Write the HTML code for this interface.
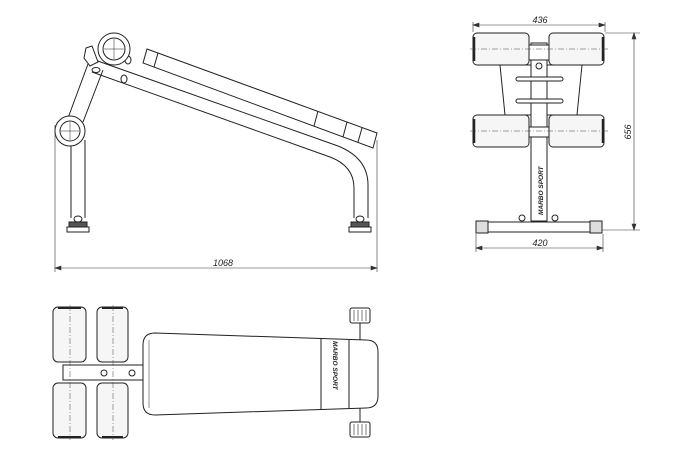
<!DOCTYPE html>
<html><head><style>html,body{margin:0;padding:0;background:#fff}svg{display:block}</style></head>
<body>
<svg width="681" height="450" viewBox="0 0 681 450" xmlns="http://www.w3.org/2000/svg" font-family="Liberation Sans, sans-serif">
<g fill="#fff" stroke="#222" stroke-width="1">
<!-- SIDE VIEW -->
<path d="M88,64 L68,118 M103,70 L83,122" fill="none"/>
<path d="M71,140 L71,218 M85,140 L85,218" fill="none"/>
<!-- main tube -->
<path d="M95,60 L338,146 Q368,158 368,185 L368,218" fill="none"/>
<path d="M92,72 L330,157 Q354,166 354,188 L354,218" fill="none"/>
<!-- pad -->
<polygon points="147,49 377,133 373,148 143,63"/>
<line x1="158" y1="53" x2="154" y2="67"/><line x1="318" y1="111" x2="314" y2="126"/><line x1="347" y1="122" x2="343" y2="137"/><line x1="362" y1="128" x2="358" y2="142"/>
<!-- top bracket -->
<polygon points="86,48 92,46 98,62 90,66 84,58"/>
<ellipse cx="96" cy="70" rx="4" ry="2.5"/><ellipse cx="128" cy="60" rx="3" ry="4"/><ellipse cx="124" cy="79" rx="3" ry="4"/>
<circle cx="114" cy="49" r="16"/><circle cx="114" cy="49" r="11"/>
<circle cx="70" cy="131" r="15"/><circle cx="70" cy="131" r="10"/>
<path d="M104,49 H124 M114,39 V59 M61,131 H79 M70,122 V140" stroke-width="0.5"/>
<rect x="69" y="222" width="18" height="6" fill="#555"/><rect x="67" y="227" width="22" height="5"/><ellipse cx="78" cy="219" rx="4" ry="3"/>
<rect x="351" y="222" width="18" height="6" fill="#555"/><rect x="349" y="227" width="22" height="5"/><ellipse cx="360" cy="219" rx="4" ry="3"/>
</g>
<g stroke="#333" stroke-width="0.6" fill="none">
<line x1="55" y1="125" x2="55" y2="272"/><line x1="377" y1="140" x2="377" y2="272"/>
<line x1="55" y1="268" x2="377" y2="268"/>
<path d="M55,268 l6,-2 v4z M377,268 l-6,-2 v4z" fill="#333"/>
</g>
<text x="223" y="266" font-size="9" font-style="italic" text-anchor="middle" fill="#222">1068</text>

<!-- FRONT VIEW -->
<g fill="#fff" stroke="#222" stroke-width="1">
<polygon points="500,65 582,65 577,115 505,115"/>
<rect x="531" y="43" width="16" height="178"/>
<g fill="#f6f6f6">
<rect x="473" y="33" width="56" height="32" rx="4"/><rect x="549" y="33" width="55" height="32" rx="4"/>
<rect x="473" y="115" width="56" height="32" rx="4"/><rect x="549" y="115" width="55" height="32" rx="4"/>
</g>
<path d="M474,37v24M603,37v24M474,119v24M603,119v24" stroke-width="2.5"/>
<rect x="529" y="45" width="20" height="15"/><rect x="529" y="127" width="20" height="10"/>
<rect x="516" y="77" width="47" height="4" rx="2"/><rect x="516" y="99" width="47" height="4" rx="2"/>
<rect x="477" y="222" width="125" height="10"/>
<rect x="476" y="221" width="12" height="12" fill="#ddd"/><rect x="590" y="221" width="12" height="12" fill="#ddd"/>
<ellipse cx="522" cy="218" rx="3" ry="3"/><ellipse cx="555" cy="218" rx="3" ry="3"/>
<circle cx="539" cy="66" r="3"/>
</g>
<g stroke="#444" stroke-width="0.5" stroke-dasharray="6,2,1,2"><line x1="470" y1="49" x2="608" y2="49"/><line x1="470" y1="131" x2="608" y2="131"/></g>
<text transform="translate(543,215) rotate(-90)" font-size="6.5" font-weight="bold" font-style="italic" fill="#222">MARBO SPORT</text>
<g stroke="#333" stroke-width="0.6" fill="none">
<line x1="473" y1="22" x2="473" y2="32"/><line x1="605" y1="22" x2="605" y2="32"/>
<line x1="473" y1="25" x2="605" y2="25"/><path d="M473,25 l6,-2 v4z M605,25 l-6,-2 v4z" fill="#333"/>
<line x1="605" y1="33" x2="640" y2="33"/><line x1="602" y1="230" x2="640" y2="230"/>
<line x1="634" y1="33" x2="634" y2="230"/><path d="M634,33 l-2,6 h4z M634,230 l-2,-6 h4z" fill="#333"/>
<line x1="476" y1="234" x2="476" y2="252"/><line x1="603" y1="234" x2="603" y2="252"/>
<line x1="476" y1="248" x2="603" y2="248"/><path d="M476,248 l6,-2 v4z M603,248 l-6,-2 v4z" fill="#333"/>
</g>
<text x="540" y="23" font-size="9" font-style="italic" text-anchor="middle" fill="#222">436</text>
<text x="540" y="246" font-size="9" font-style="italic" text-anchor="middle" fill="#222">420</text>
<text transform="translate(631,132) rotate(-90)" font-size="9" font-style="italic" text-anchor="middle" fill="#222">656</text>

<!-- TOP VIEW -->
<g fill="#fff" stroke="#222" stroke-width="1">
<rect x="63" y="365" width="82" height="15"/>
<g fill="#f6f6f6">
<rect x="53" y="307" width="33" height="55" rx="5"/><rect x="97" y="307" width="31" height="55" rx="5"/>
<rect x="53" y="383" width="33" height="55" rx="5"/><rect x="97" y="383" width="31" height="55" rx="5"/>
</g>
<path d="M58,308h23M58,437h23M102,308h21M102,437h21" stroke-width="2"/>
<line x1="360" y1="323" x2="360" y2="340"/><line x1="360" y1="408" x2="360" y2="422"/>
<path d="M155,333 L366,340 Q378,340 378,352 L378,396 Q378,408 366,408 L155,415 Q143,415 143,403 L143,345 Q143,333 155,333Z"/>
<path d="M149,340 L149,408" stroke-width="0.5"/>
<line x1="321" y1="339" x2="321" y2="409"/><line x1="349" y1="340" x2="349" y2="408"/>
<rect x="350" y="308" width="20" height="15" rx="2"/><rect x="350" y="422" width="20" height="15" rx="2"/>
<path d="M354,310v11M358,310v11M362,310v11M366,310v11M354,424v11M358,424v11M362,424v11M366,424v11" stroke-width="0.6"/>
<circle cx="104" cy="373" r="3"/><circle cx="132" cy="373" r="3"/>
</g>
<g stroke="#444" stroke-width="0.5" stroke-dasharray="6,2,1,2"><line x1="70" y1="305" x2="70" y2="440"/><line x1="113" y1="305" x2="113" y2="440"/></g>
<text transform="translate(333,341) rotate(90)" font-size="6.5" font-weight="bold" font-style="italic" fill="#222">MARBO SPORT</text>
</svg>
</body></html>
